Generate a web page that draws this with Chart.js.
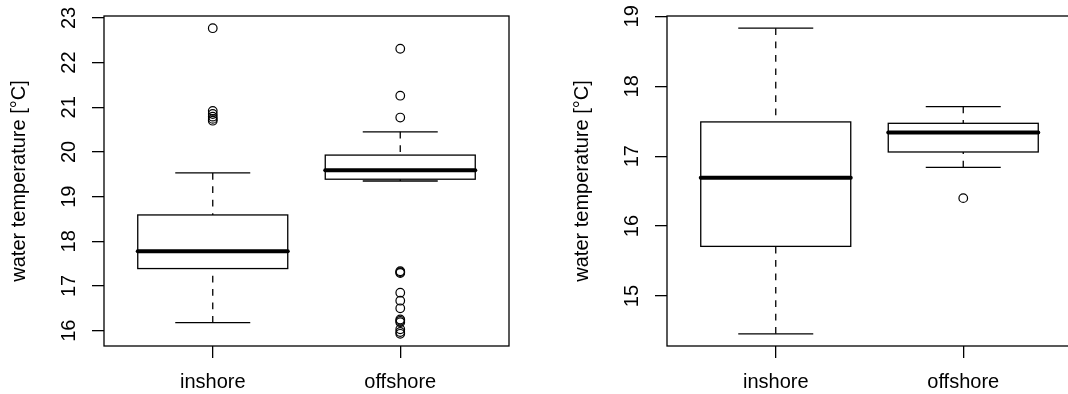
<!DOCTYPE html>
<html>
<head>
<meta charset="utf-8">
<title>water temperature</title>
<script src="https://cdn.jsdelivr.net/npm/chart.js@4.4.1/dist/chart.umd.min.js"></script>
<style>
  html, body { margin: 0; padding: 0; background: #fff; overflow: hidden; width: 1068px; height: 394px; }
  .panel { position: absolute; top: 0; width: 534px; height: 394px; }
</style>
</head>
<body>
<div class="panel" style="left:0px"><canvas id="panelA" width="534" height="394"></canvas></div>
<div class="panel" style="left:563px"><canvas id="panelB" width="534" height="394"></canvas></div>
<script>
// Groups and axis text
const categories = ['inshore', 'offshore'];
const yTitle = 'water temperature [°C]';

// Left panel: five-number summaries per group
const aWhiskerLow  = [16.18, 19.35];
const aQ1          = [17.39, 19.39];
const aMedian      = [17.78, 19.59];
const aQ3          = [18.59, 19.93];
const aWhiskerHigh = [19.53, 20.45];
const aOutInshore  = [22.77, 20.92, 20.85, 20.79, 20.74, 20.70];
const aOutOffshore = [22.31, 21.26, 20.77, 17.33, 17.31, 17.29, 16.85, 16.67, 16.50, 16.25, 16.22, 16.19, 16.03, 15.97, 15.93];
const aTicks       = [16, 17, 18, 19, 20, 21, 22, 23];

// Right panel
const bWhiskerLow  = [14.46, 16.84];
const bQ1          = [15.71, 17.06];
const bMedian      = [16.69, 17.34];
const bQ3          = [17.49, 17.47];
const bWhiskerHigh = [18.83, 17.71];
const bOutInshore  = [];
const bOutOffshore = [16.40];
const bTicks       = [15, 16, 17, 18, 19];

const FONT = "'Liberation Sans', Arial, Helvetica, sans-serif";
const INK = '#000';

// Draws boxes, medians, dashed whiskers and staples from the summary arrays
const boxplotPlugin = {
  id: 'boxplot',
  beforeDatasetsDraw(chart, args, opts) {
    const { ctx } = chart;
    const xs = chart.scales.x, ys = chart.scales.y;
    const s = opts.stats;
    const seg = (x1, y1, x2, y2) => { ctx.beginPath(); ctx.moveTo(x1, y1); ctx.lineTo(x2, y2); ctx.stroke(); };
    ctx.save();
    ctx.strokeStyle = INK;
    for (let i = 0; i < s.median.length; i++) {
      const c = i + 1;
      const xc = xs.getPixelForValue(c);
      const xl = xs.getPixelForValue(c - opts.boxHalf);
      const xr = xs.getPixelForValue(c + opts.boxHalf);
      const sl = xs.getPixelForValue(c - opts.stapleHalf);
      const sr = xs.getPixelForValue(c + opts.stapleHalf);
      const yLo = ys.getPixelForValue(s.lo[i]);
      const yQ1 = ys.getPixelForValue(s.q1[i]);
      const yMd = ys.getPixelForValue(s.median[i]);
      const yQ3 = ys.getPixelForValue(s.q3[i]);
      const yHi = ys.getPixelForValue(s.hi[i]);

      // box
      ctx.fillStyle = '#fff';
      ctx.fillRect(xl, yQ3, xr - xl, yQ1 - yQ3);
      ctx.lineWidth = 1.3;
      ctx.setLineDash([]);
      ctx.strokeRect(xl, yQ3, xr - xl, yQ1 - yQ3);

      // median
      ctx.lineWidth = 4;
      ctx.lineCap = 'round';
      seg(xl, yMd, xr, yMd);
      ctx.lineCap = 'butt';

      // whiskers
      ctx.lineWidth = 1.3;
      ctx.setLineDash([6.7, 6.7]);
      seg(xc, yLo, xc, yQ1);
      seg(xc, yHi, xc, yQ3);
      ctx.setLineDash([]);

      // staples
      seg(sl, yLo, sr, yLo);
      seg(sl, yHi, sr, yHi);
    }
    ctx.restore();
  },
  afterDraw(chart) {
    const { ctx, chartArea: a } = chart;
    ctx.save();
    ctx.strokeStyle = INK;
    ctx.lineWidth = 1.3;
    ctx.strokeRect(a.left, a.top, a.right - a.left, a.bottom - a.top);
    ctx.restore();
  }
};

function paddedRange(values) {
  const lo = Math.min(...values), hi = Math.max(...values);
  const pad = (hi - lo) * 0.04;
  return [lo - pad, hi + pad];
}

function makePanel(canvasId, stats, outInshore, outOffshore, ticks) {
  const [yMin, yMax] = paddedRange([...stats.lo, ...stats.hi, ...outInshore, ...outOffshore]);
  const outStyle = {
    pointStyle: 'circle', pointRadius: 4.3, pointBorderWidth: 1.2,
    pointBorderColor: INK, pointBackgroundColor: 'rgba(0,0,0,0)', showLine: false
  };
  return new Chart(document.getElementById(canvasId), {
    type: 'scatter',
    data: {
      datasets: [
        Object.assign({ label: categories[0], data: outInshore.map(v => ({ x: 1, y: v })) }, outStyle),
        Object.assign({ label: categories[1], data: outOffshore.map(v => ({ x: 2, y: v })) }, outStyle)
      ]
    },
    options: {
      responsive: false,
      devicePixelRatio: 1,
      animation: false,
      events: [],
      layout: { padding: { left: 0, top: 16, right: 25, bottom: 0 } },
      plugins: {
        legend: { display: false },
        tooltip: { enabled: false },
        boxplot: { stats, boxHalf: 0.4, stapleHalf: 0.2 }
      },
      scales: {
        x: {
          type: 'linear',
          min: 0.42, max: 2.58,
          afterBuildTicks: (sc) => { sc.ticks = categories.map((c, i) => ({ value: i + 1 })); },
          afterFit: (sc) => { sc.height = 48; sc.paddingLeft = 0; sc.paddingRight = 0; },
          ticks: {
            autoSkip: false, padding: 12, color: INK,
            font: { family: FONT, size: 20 },
            callback: (v, i) => categories[i]
          },
          grid: { display: true, drawOnChartArea: false, drawTicks: true, tickLength: 12, color: INK, lineWidth: 1.3 },
          border: { display: false }
        },
        y: {
          type: 'linear',
          min: yMin, max: yMax,
          afterBuildTicks: (sc) => { sc.ticks = ticks.map(v => ({ value: v })); },
          afterFit: (sc) => { sc.width = 104; sc.paddingTop = 0; sc.paddingBottom = 0; },
          ticks: {
            autoSkip: false, padding: 11, color: INK,
            minRotation: 90, maxRotation: 90, crossAlign: 'center',
            font: { family: FONT, size: 20 },
            callback: (v) => String(v)
          },
          grid: { display: true, drawOnChartArea: false, drawTicks: true, tickLength: 12, color: INK, lineWidth: 1.3 },
          border: { display: false },
          title: {
            display: true, text: yTitle, color: INK,
            font: { family: FONT, size: 20 },
            padding: { top: 7, bottom: 0 }
          }
        }
      }
    },
    plugins: [boxplotPlugin]
  });
}

makePanel('panelA',
  { lo: aWhiskerLow, q1: aQ1, median: aMedian, q3: aQ3, hi: aWhiskerHigh },
  aOutInshore, aOutOffshore, aTicks);

makePanel('panelB',
  { lo: bWhiskerLow, q1: bQ1, median: bMedian, q3: bQ3, hi: bWhiskerHigh },
  bOutInshore, bOutOffshore, bTicks);
</script>
</body>
</html>
